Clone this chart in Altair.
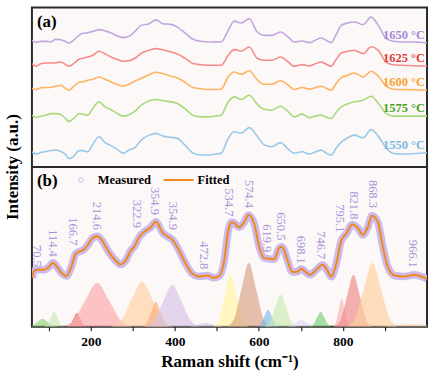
import altair as alt
import pandas as pd

FONT = "Liberation Serif"

# ---------------- panel (a): stacked spectra ----------------
temps = ["1650 °C", "1625 °C", "1600 °C", "1575 °C", "1550 °C"]
line_colors = ["#c2a6de", "#f58c8c", "#fdb360", "#a8d97c", "#98c9e8"]
label_colors = ["#a68ad6", "#e23b3b", "#f5a233", "#4aa326", "#79b8e2"]

shift_a = [60, 70, 81, 93, 105, 117, 129, 139, 148, 160,
           172, 181, 193, 205, 220, 234, 248, 262, 277, 291,
           305, 320, 339, 355, 372, 391, 405, 424, 443, 462,
           479, 496, 510, 527, 541, 558, 577, 596, 612, 631,
           651, 670, 684, 703, 720, 734, 748, 760, 772, 784,
           796, 812, 827, 848, 867, 884, 903, 920, 939, 970,
           1000]

i1650 = [127, 125, 126, 126, 125.5, 128, 127.5, 126, 124.3, 127.5,
         132, 134, 134.7, 136, 137.7, 136.5, 134.5, 131.5, 129.7, 131,
         136, 142, 143.7, 147.5, 143.7, 143, 140.5, 134.5, 128, 126,
         125.3, 125.5, 125.3, 137, 146.3, 144.3, 148.7, 135.3, 132, 132,
         135.3, 130.3, 125.3, 126.3, 124.7, 127, 129.3, 127, 124.7, 133,
         142, 144.5, 145.3, 142.7, 150.3, 142, 128.7, 126, 125.3, 125.3,
         124.3]
i1625 = [103.7, 101, 103.5, 104.3, 104.3, 104.5, 105.3, 103, 101, 104,
         108, 109, 110.3, 112, 116, 113.5, 110.3, 108, 106, 106.5,
         109, 114, 117, 118.7, 117.5, 115.3, 113.5, 109, 103.7, 102.5,
         102, 102, 102, 112, 117.7, 116.3, 120.3, 109, 107, 107,
         110.3, 105.3, 101, 102.7, 101.3, 103.5, 105.3, 103, 101, 108,
         114.3, 116, 117, 113.7, 120.5, 117, 105, 102.5, 102, 101.5,
         101.3]
i1600 = [78.7, 77.7, 79.5, 79.7, 80, 81, 82, 79, 77, 81,
         85, 85.5, 87, 88, 90.3, 88, 85.3, 83, 81, 83,
         86, 89, 92.5, 95, 93.5, 91, 89.5, 85, 79.7, 78.5,
         77.7, 77.7, 78, 90.3, 95.3, 93, 96.5, 87.5, 83, 83,
         86.5, 82, 77.7, 79.7, 78, 79.5, 81, 79, 77, 84,
         89.7, 92, 94.3, 90.3, 96, 91, 81, 78, 77.7, 77.5,
         77]
i1575 = [52, 49.7, 51, 52, 53.5, 53.5, 52.5, 49, 45.5, 49,
         53.5, 53, 52, 59, 65.3, 60.3, 57.5, 54, 51, 52.5,
         56, 62, 66.5, 67.7, 66.5, 65.3, 64, 58.5, 52, 50.3,
         50.3, 51, 52, 65.3, 70.3, 67.7, 72, 63, 58, 57,
         61, 55.3, 50.3, 53, 49.5, 51, 52, 50, 48.7, 55,
         60.3, 63.5, 65.3, 67, 71, 64, 53.5, 51, 51, 51,
         51]
i1550 = [15.3, 13, 14.5, 15.5, 16.5, 17, 15.5, 13, 8.5, 11,
         16.5, 16.5, 15.3, 23, 30.3, 24.5, 21.5, 18, 14, 17,
         19.5, 27, 32, 33.7, 31, 29.7, 29, 22, 14, 12,
         12, 13, 13.7, 28.7, 35.3, 34, 39.5, 31, 22.5, 20.3,
         24.5, 18, 13.7, 15.3, 13, 15, 17, 14, 12, 19,
         25, 29.5, 32, 29.3, 37.5, 31, 19, 13.5, 13, 13.5,
         14.3]
series_a = [i1650, i1625, i1600, i1575, i1550]

# ---------------- panel (b): measured / fitted ----------------
fit_x = [61, 65, 77, 89, 100, 110, 120, 132, 142, 152,
         164, 172, 180, 192, 204, 215, 227, 243, 259, 271,
         283, 295, 303, 315, 331, 343, 355, 362, 370, 382,
         394, 410, 426, 442, 458, 477, 493, 505, 517, 527,
         535, 541, 553, 565, 575, 589, 600, 612, 624, 636,
         648, 653, 660, 668, 680, 692, 700, 712, 722, 734,
         743, 751, 763, 772, 784, 796, 808, 822, 837, 847,
         859, 869, 883, 895, 907, 923, 946, 970, 990, 1000]
fit_y = [49, 56, 57.3, 57, 59.7, 64, 59.7, 53, 50.7, 58,
         73, 75.3, 76.3, 81.3, 88.7, 90.7, 86.3, 74.7, 66.3, 62.3,
         66.3, 76.3, 80, 89.7, 96.3, 99.7, 105.3, 101.3, 94.7, 90.7,
         87.3, 76.3, 63, 53, 50.3, 51.3, 49, 50.7, 64.7, 96,
         104.7, 104, 99.7, 104.7, 112, 103, 81.3, 69, 68, 67.5,
         78.7, 80, 77, 66.3, 54.7, 55.3, 58, 54.5, 52, 56,
         59.7, 62, 56.3, 50, 63, 86.3, 93, 102.3, 98, 92,
         99.7, 111.3, 104.7, 79.7, 59.7, 51.3, 50.3, 52, 49.7, 48]

peak_labels = ["70.5", "114.4", "166.7", "214.6", "322.9", "354.9", "354.9",
               "472.8", "534.7", "574.4", "619.9", "650.5", "698.1", "746.7",
               "795.1", "821.8", "868.3", "966.1"]
peak_label_x = [72, 110, 157, 215, 309, 353, 395, 470, 530, 577, 620, 652,
                700, 747, 792, 826, 871, 966]
peak_label_y = [60, 70, 81.5, 97, 99, 112, 97, 57.5, 110.5, 119, 74.5, 86.5,
                63, 67.5, 94.5, 107.5, 119, 59]

# fitted component bands
comp_x = [
    [49, 61, 73, 85, 97, 109, 121],
    [89, 97, 105, 113, 121, 129, 137],
    [143, 151, 159, 167, 175, 183, 191],
    [131, 159, 187, 215, 243, 271, 299],
    [247, 272, 297, 322, 347, 372, 397],
    [322, 333, 344, 355, 366, 377, 388],
    [328, 350, 372, 394, 416, 438, 460],
    [428, 443, 458, 473, 488, 503, 518],
    [491, 505, 519, 533, 547, 561, 575],
    [525, 542, 559, 576, 593, 610, 627],
    [595, 604, 613, 622, 631, 640, 649],
    [613, 626, 639, 652, 665, 678, 691],
    [664, 676, 688, 700, 712, 724, 736],
    [720, 729, 738, 747, 756, 765, 774],
    [776, 783, 790, 797, 804, 811, 818],
    [780, 795, 810, 825, 840, 855, 870],
    [810, 830, 850, 870, 890, 910, 930],
    [876, 906, 936, 966, 996, 1026, 1056],
]
comp_y = [
    [0, 1.1, 4.8, 8, 4.8, 1.1, 0],
    [0, 2.1, 9, 15, 9, 2.1, 0],
    [0, 2, 8.4, 14, 8.4, 2, 0],
    [0, 6.2, 26.4, 44, 26.4, 6.2, 0],
    [0, 6.3, 27, 45, 27, 6.3, 0],
    [0, 3.5, 15, 25, 15, 3.5, 0],
    [0, 5.9, 25.2, 42, 25.2, 5.9, 0],
    [0, 0.6, 2.4, 4, 2.4, 0.6, 0],
    [0, 7.4, 31.8, 53, 31.8, 7.4, 0],
    [0, 9, 38.4, 64, 38.4, 9, 0],
    [0, 2.4, 10.2, 17, 10.2, 2.4, 0],
    [0, 4.5, 19.2, 32, 19.2, 4.5, 0],
    [0, 1, 4.2, 7, 4.2, 1, 0],
    [0, 2.1, 9, 15, 9, 2.1, 0],
    [0, 3.9, 16.8, 28, 16.8, 3.9, 0],
    [0, 7.3, 31.2, 52, 31.2, 7.3, 0],
    [0, 9, 38.4, 64, 38.4, 9, 0],
    [0, 0.4, 1.8, 3, 1.8, 0.4, 0],
]
comp_colors = ["#8fd67f", "#c8ebb4", "#e46a6a", "#f9a9a9", "#fdd2a2", "#f7b07e",
               "#d6c6e6", "#d6c6e6", "#fff6a3", "#d9a486", "#7fbbe6", "#c8ebb4",
               "#e2d8ee", "#7fd27a", "#f7b3b3", "#ee8a8a", "#fdd0a0", "#fbd9bd"]

# ---------------- build tables ----------------
rows = []
for t, s in zip(temps, series_a):
    for x, v in zip(shift_a, s):
        rows.append({"shift": x, "intensity": v, "temp": t})
df_a = pd.DataFrame(rows)
df_tl = pd.DataFrame({"temp": temps, "shift": [1000] * 5,
                      "intensity": [s[-1] for s in series_a]})

df_fit = pd.DataFrame({"shift": fit_x, "intensity": fit_y})
df_lab = pd.DataFrame({"shift": peak_label_x, "intensity": peak_label_y, "txt": peak_labels})
crow = []
ids = []
for k, (xs, ys) in enumerate(zip(comp_x, comp_y)):
    pid = f"p{k:02d}"
    ids.append(pid)
    for x, v in zip(xs, ys):
        crow.append({"shift": x, "intensity": v, "peak": pid})
df_comp = pd.DataFrame(crow)

W, H = 396, 160
xsc = alt.Scale(domain=[60, 1000], nice=False, zero=False)
ysc = alt.Scale(domain=[0, 160], nice=False, zero=False)

# ---- panel (a)
lines_a = alt.Chart(df_a).mark_line(strokeWidth=1.6, interpolate="monotone", clip=True).encode(
    x=alt.X("shift:Q", scale=xsc, axis=None),
    y=alt.Y("intensity:Q", scale=ysc, axis=None),
    color=alt.Color("temp:N", scale=alt.Scale(domain=temps, range=line_colors), legend=None),
)
tlab = alt.Chart(df_tl).mark_text(font=FONT, fontSize=12.5, fontWeight="bold", align="right",
                                  baseline="middle", dx=-2, dy=-8).encode(
    x=alt.X("shift:Q", scale=xsc, axis=None),
    y=alt.Y("intensity:Q", scale=ysc, axis=None),
    text="temp:N",
    color=alt.Color("temp:N", scale=alt.Scale(domain=temps, range=label_colors), legend=None),
)
tag_a = alt.Chart(pd.DataFrame({"t": ["(a)"]})).mark_text(
    font=FONT, fontSize=17, fontWeight="bold", align="left", baseline="middle", color="black"
).encode(x=alt.value(5), y=alt.value(15), text="t:N")
ytitle = alt.Chart(pd.DataFrame({"t": ["Intensity (a.u.)"]})).mark_text(
    font=FONT, fontSize=17, fontWeight="bold", align="center", baseline="middle", angle=270, color="black"
).encode(x=alt.value(-19), y=alt.value(160), text="t:N")

panel_a = alt.layer(lines_a, tlab, tag_a, ytitle).resolve_scale(color="independent").properties(width=W, height=H)

# ---- panel (b)
xaxis = alt.Axis(values=[100, 200, 300, 400, 500, 600, 700, 800, 900],
                 labelExpr="datum.value % 200 == 0 ? datum.label : ''",
                 tickSize=4, tickColor="black", tickWidth=1, domain=False, grid=False,
                 labelFont=FONT, labelFontSize=13.5, labelFontWeight="bold", labelColor="black",
                 labelPadding=4, labelFlush=False,
                 title="Raman shift (cm⁻¹)", titleFont=FONT, titleFontSize=17,
                 titleFontWeight="bold", titleColor="black", titlePadding=5)

comps = alt.Chart(df_comp).mark_area(interpolate="monotone", clip=True, opacity=0.68).encode(
    x=alt.X("shift:Q", scale=xsc, axis=xaxis),
    y=alt.Y("intensity:Q", scale=ysc, axis=None, stack=None),
    color=alt.Color("peak:N", scale=alt.Scale(domain=ids, range=comp_colors), legend=None),
    order=alt.Order("peak:N"),
)
measured = alt.Chart(df_fit).mark_line(strokeWidth=7.5, color="#c9b6ec", interpolate="monotone",
                                       clip=True, opacity=0.95).encode(
    x=alt.X("shift:Q", scale=xsc), y=alt.Y("intensity:Q", scale=ysc))
fitted = alt.Chart(df_fit).mark_line(strokeWidth=2, color="#f0891a", interpolate="monotone",
                                     clip=True).encode(
    x=alt.X("shift:Q", scale=xsc), y=alt.Y("intensity:Q", scale=ysc))
labels = alt.Chart(df_lab).mark_text(font=FONT, fontSize=12.5, angle=90, align="right",
                                     baseline="middle", color="#a892da").encode(
    x=alt.X("shift:Q", scale=xsc), y=alt.Y("intensity:Q", scale=ysc), text="txt:N")

tag_b = alt.Chart(pd.DataFrame({"t": ["(b)"]})).mark_text(
    font=FONT, fontSize=17, fontWeight="bold", align="left", baseline="middle", color="black"
).encode(x=alt.value(5), y=alt.value(14), text="t:N")
leg_pt = alt.Chart(pd.DataFrame({"t": ["Measured"]})).mark_point(
    shape="circle", size=22, filled=False, color="#c9b6ec", strokeWidth=1.2
).encode(x=alt.value(49), y=alt.value(13))
leg_t1 = alt.Chart(pd.DataFrame({"t": ["Measured"]})).mark_text(
    font=FONT, fontSize=12.5, fontWeight="bold", align="left", baseline="middle", color="black"
).encode(x=alt.value(66), y=alt.value(13), text="t:N")
leg_ln = alt.Chart(pd.DataFrame({"t": ["Fitted"]})).mark_rule(color="#f0891a", strokeWidth=2).encode(
    x=alt.value(132), x2=alt.value(162), y=alt.value(13))
leg_t2 = alt.Chart(pd.DataFrame({"t": ["Fitted"]})).mark_text(
    font=FONT, fontSize=12.5, fontWeight="bold", align="left", baseline="middle", color="black"
).encode(x=alt.value(166), y=alt.value(13), text="t:N")

panel_b = alt.layer(comps, measured, fitted, labels, tag_b, leg_pt, leg_t1, leg_ln, leg_t2
                    ).properties(width=W, height=H)

chart = alt.vconcat(panel_a, panel_b, spacing=0, bounds="flush").properties(
    padding={"left": 3, "top": 6, "right": 12, "bottom": 4},
    autosize=alt.AutoSizeParams(type="pad"),
    background="white",
).configure_view(stroke="#2a2a2a", strokeWidth=2, fill="#fdf8f8")

chart.save("out.html", embed_options={"renderer": "svg", "actions": False})
